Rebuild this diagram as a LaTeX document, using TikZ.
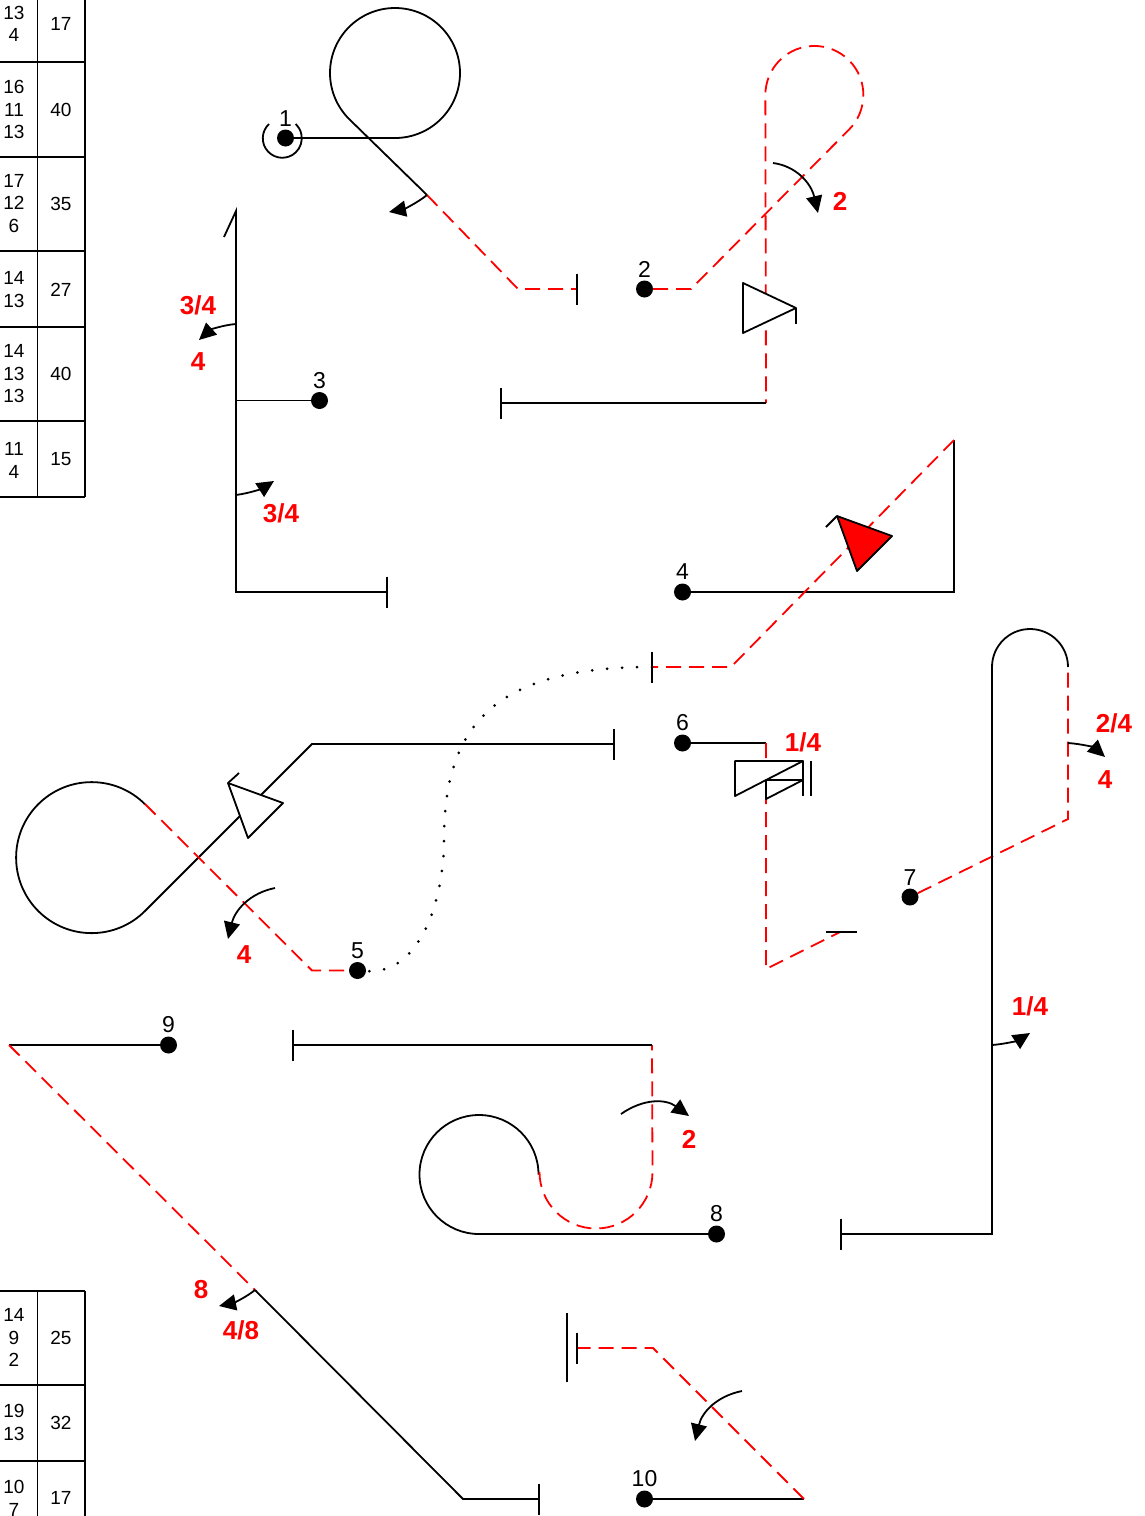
\documentclass[tikz,border=0pt]{standalone}
\usepackage{fontspec}
\setmainfont{Liberation Sans}
\usepackage{xcolor}
\usetikzlibrary{arrows.meta,positioning}
\definecolor{route}{HTML}{FF0000}

\begin{document}
\begin{tikzpicture}[
  x=1pt,y=-1pt,
  wire/.style={line width=1.8pt,black},
  red wire/.style={line width=1.8pt,route,dash pattern=on 15pt off 8pt},
  dots/.style={line width=3pt,black,line cap=round,dash pattern=on 0pt off 15pt},
  tri/.style={line width=1.8pt,black,line join=round,fill=#1},
  tri/.default=white,
  arr/.style={-{Triangle[length=17pt,width=16pt]},line width=1.8pt,black},
  dot/.style={circle,fill=black,inner sep=0pt,minimum size=17pt},
  num/.style={font=\fontsize{23}{23}\selectfont,inner sep=0pt},
  turn/.style={font=\fontsize{26}{26}\selectfont\bfseries,text=route,inner sep=0pt},
  cell/.style={font=\fontsize{19}{22.5}\selectfont,align=center,inner sep=0pt}
]
\useasboundingbox (0,0) rectangle (1144,1516);

% tables
\draw[wire] (37.5,0) -- (37.5,497) (85,0) -- (85,497);
\draw[wire] (0,62) -- (85,62) (0,157) -- (85,157) (0,251) -- (85,251)
  (0,327) -- (85,327) (0,421) -- (85,421) (0,497) -- (85,497);
\draw[wire] (37.5,1291) -- (37.5,1516) (85,1291) -- (85,1516);
\draw[wire] (0,1291) -- (85,1291) (0,1385) -- (85,1385) (0,1461) -- (85,1461);
\node[cell] (t1a) at (14,24) {13\\4};
\node[cell] (t1b) at (61,24) {17};
\node[cell] (t2a) at (14,109.5) {16\\11\\13};
\node[cell] (t2b) at (61,109.5) {40};
\node[cell] (t3a) at (14,203.5) {17\\12\\6};
\node[cell] (t3b) at (61,204) {35};
\node[cell] (t4a) at (14,289.5) {14\\13};
\node[cell] (t4b) at (61,289.5) {27};
\node[cell] (t5a) at (14,374) {14\\13\\13};
\node[cell] (t5b) at (61,374) {40};
\node[cell] (t6a) at (14,460.5) {11\\4};
\node[cell] (t6b) at (61,459.5) {15};
\node[cell] (t7a) at (14,1337.5) {14\\9\\2};
\node[cell] (t7b) at (61,1338) {25};
\node[cell] (t8a) at (14,1422.5) {19\\13};
\node[cell] (t8b) at (61,1423) {32};
\node[cell] (t9a) at (14,1498.5) {10\\7};
\node[cell] (t9b) at (61,1498) {17};

% stops
\node[dot] (p1) at (285.5,138) {};
\node[dot] (p2) at (644.5,289) {};
\node[dot] (p3) at (319.5,400.5) {};
\node[dot] (p4) at (682.5,592) {};
\node[dot] (p5) at (357.5,970.5) {};
\node[dot] (p6) at (682.5,743) {};
\node[dot] (p7) at (910,897) {};
\node[dot] (p8) at (716.5,1234) {};
\node[dot] (p9) at (168.5,1045) {};
\node[dot] (p10) at (644.5,1499) {};
\node[num,above=3pt of p1] (n1) {1};
\node[num,above=3pt of p2] (n2) {2};
\node[num,above=3pt of p3] (n3) {3};
\node[num,above=4pt of p4] (n4) {4};
\node[num,above=3pt of p5] (n5) {5};
\node[num,above=3pt of p6] (n6) {6};
\node[num,above=3pt of p7] (n7) {7};
\node[num,above=3pt of p8] (n8) {8};
\node[num,above=3pt of p9] (n9) {9};
\node[num,above=3pt of p10] (n10) {10};

% bend points and bar ends
\coordinate (a1) at (395,138);
\coordinate (a2) at (427,195);
\coordinate (a3) at (518,289);
\coordinate (b1) at (577,289);
\coordinate (c1) at (691,289);
\coordinate (c2) at (849,129.6);
\coordinate (c3) at (766,95);
\coordinate (c4) at (766,403);
\coordinate (b2) at (501,403);
\coordinate (d1) at (236,400.5);
\coordinate (d2) at (236,211);
\coordinate (d3) at (236,592);
\coordinate (b3) at (387,592);
\coordinate (e1) at (954,592);
\coordinate (e2) at (954,440);
\coordinate (e3) at (731,667);
\coordinate (b4) at (652,667);
\coordinate (b5) at (614,744);
\coordinate (f1) at (312,744);
\coordinate (f2) at (145,911);
\coordinate (f3) at (145,804);
\coordinate (f4) at (312,970.5);
\coordinate (g1) at (766,743);
\coordinate (g2) at (766,969);
\coordinate (g3) at (840,932);
\coordinate (h1) at (1068,819);
\coordinate (h2) at (1068,667);
\coordinate (h3) at (992,667);
\coordinate (h4) at (992,1234);
\coordinate (b6) at (841,1234);
\coordinate (i1) at (479,1234);
\coordinate (i2) at (539.5,1172);
\coordinate (i3) at (652.5,1172);
\coordinate (i4) at (652,1045);
\coordinate (b7) at (293,1045);
\coordinate (j1) at (9,1045);
\coordinate (j2) at (255,1290);
\coordinate (j3) at (463,1499);
\coordinate (b8) at (539,1499);
\coordinate (k1) at (804,1499);
\coordinate (k2) at (653,1348);
\coordinate (b9) at (577,1348);

% routes
\draw[wire] (282,138) ++(-13,-14) arc[start angle=227,end angle=-47,radius=19.5];
\draw[wire] (p1) -- (a1) arc[start angle=90,end angle=-225,radius=65] -- (a2);
\draw[red wire] (a2) -- (a3) -- (b1);
\draw[wire] (b1) ++(0,-15.5) -- ++(0,31);
\draw[red wire] (p2) -- (c1) -- (c2) arc[start angle=45,end angle=-180,radius=49] -- (c4);
\draw[wire] (c4) -- (b2);
\draw[wire] (b2) ++(0,-15.5) -- ++(0,31);
\draw[wire] (p3) -- (d1);
\draw[wire] (224,237) -- (d2) -- (d3) -- (b3);
\draw[wire] (b3) ++(0,-15.5) -- ++(0,31);
\draw[wire] (p4) -- (e1) -- (e2);
\draw[red wire] (e2) -- (e3) -- (b4);
\draw[wire] (b4) ++(0,-15.5) -- ++(0,31);
\draw[dots] (b4) .. controls (500,667) and (444,720) .. (444,840)
  .. controls (444,900) and (420,975) .. (p5);
\draw[wire] (b5) ++(0,-15.5) -- ++(0,31);
\draw[wire] (b5) -- (f1) -- (f2) arc[start angle=45,end angle=315,radius=75.5];
\draw[red wire] (f3) -- (f4) -- (p5);
\draw[wire] (p6) -- (g1);
\draw[red wire] (g1) -- (g2) -- (g3);
\draw[wire] (826,932) -- (857,932);
\draw[red wire] (p7) -- (h1) -- (h2);
\draw[wire] (h2) arc[start angle=0,end angle=-180,radius=38] -- (h4) -- (b6);
\draw[wire] (b6) ++(0,-15.5) -- ++(0,31);
\draw[wire] (p8) -- (i1) arc[start angle=90,end angle=360,radius=59.5];
\draw[red wire] (i2) arc[start angle=180,end angle=0,radius=56.5] -- (i4);
\draw[wire] (i4) -- (b7);
\draw[wire] (b7) ++(0,-15.5) -- ++(0,31);
\draw[wire] (p9) -- (j1);
\draw[red wire] (j1) -- (j2);
\draw[wire] (j2) -- (j3) -- (b8);
\draw[wire] (b8) ++(0,-15.5) -- ++(0,31);
\draw[wire] (p10) -- (k1);
\draw[red wire] (k1) -- (k2) -- (b9);
\draw[wire] (b9) ++(0,-15.5) -- ++(0,31);
\draw[wire] (567,1313) -- (567,1382);

% triangles
\draw[tri] (743,283) -- (796,308) -- (743,333) -- cycle;
\draw[wire] (796,308) -- (796,324);
\draw[tri=route] (837,516) -- (892,536) -- (857,571) -- cycle;
\draw[wire] (837,516) -- (826,527);
\draw[tri] (228,783) -- (283,803) -- (248,838) -- cycle;
\draw[wire] (228,783) -- (239,773);
\draw[tri] (735,761) -- (803,761) -- (735,796) -- cycle;
\draw[tri] (766,780) -- (803,780) -- (766,799) -- cycle;
\draw[wire] (803,761) -- (803,796);
\draw[wire] (811,761) -- (811,796);

% turn arrows
\draw[arr] (a2) .. controls (417,203) and (404,209) .. (389,212);
\draw[arr] (773,163) .. controls (796,166) and (811,183) .. (818,213);
\draw[arr] (236,324) .. controls (223,325) and (210,330) .. (199,340);
\draw[arr] (236,495) .. controls (251,493) and (263,488) .. (274,481);
\draw[arr] (275,888) .. controls (250,893) and (235,910) .. (228,939);
\draw[arr] (1068,743) .. controls (1083,744) and (1095,748) .. (1105,757);
\draw[arr] (992,1045) .. controls (1006,1044) and (1019,1040) .. (1030,1033);
\draw[arr] (621,1114) .. controls (644,1098) and (666,1099) .. (689,1116);
\draw[arr] (j2) .. controls (245,1298) and (233,1303) .. (219,1306);
\draw[arr] (742,1391) .. controls (717,1396) and (702,1412) .. (695,1441);

% red labels
\node[turn] (m1) at (840,201) {2};
\node[turn] (m2) at (198,305) {3/4};
\node[turn] (m3) at (198,362) {4};
\node[turn] (m4) at (281,513) {3/4};
\node[turn] (m5) at (244,955) {4};
\node[turn] (m6) at (803,742) {1/4};
\node[turn] (m7) at (1114,723) {2/4};
\node[turn] (m8) at (1105,780) {4};
\node[turn] (m9) at (1030,1006) {1/4};
\node[turn] (m10) at (689,1139) {2};
\node[turn] (m11) at (201,1290) {8};
\node[turn] (m12) at (241,1330) {4/8};
\end{tikzpicture}
\end{document}
